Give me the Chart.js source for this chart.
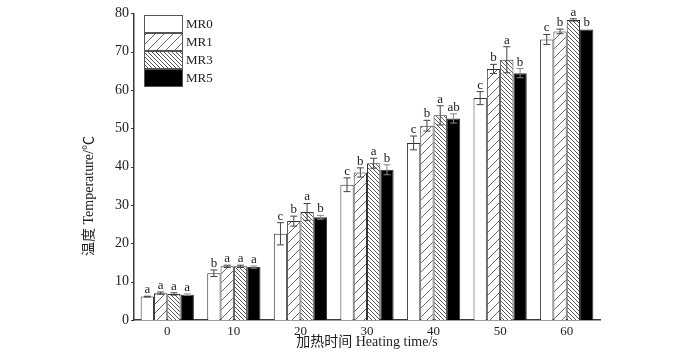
<!DOCTYPE html>
<html lang="zh">
<head>
  <meta charset="UTF-8" />
  <title>温度 Heating time</title>
  <style>
    html, body { margin: 0; padding: 0; background: #fff; }
    .chart-box { width: 700px; height: 354px; position: relative; }
  </style>
</head>
<body>
  <div class="chart-box">
    <canvas id="tempChart" width="700" height="354"></canvas>
  </div>

  <script src="https://cdn.jsdelivr.net/npm/chart.js"></script>
  <script>
    // --- data ---
    const categories = ['0', '10', '20', '30', '40', '50', '60'];
    const seriesNames = ['MR0', 'MR1', 'MR3', 'MR5'];

    const mr0 = [6.1, 12.2, 22.5, 35.3, 46.2, 57.9, 73.2];
    const mr1 = [7.0, 14.0, 25.8, 38.5, 50.7, 65.5, 75.3];
    const mr3 = [6.8, 14.0, 28.2, 40.9, 53.4, 67.9, 78.3];
    const mr5 = [6.6, 13.8, 26.8, 39.2, 52.6, 64.4, 75.8];

    // error bars (+/-)
    const err0 = [0.1, 0.85, 2.9, 1.8, 1.8, 1.7, 1.3];
    const err1 = [0.3, 0.3, 1.3, 1.2, 1.4, 1.2, 0.6];
    const err3 = [0.3, 0.3, 2.2, 1.3, 2.5, 3.4, 0.3];
    const err5 = [0.2, 0.3, 0.5, 1.3, 1.2, 1.2, 0.0];

    // significance letters
    const sig0 = ['a', 'b', 'c', 'c', 'c', 'c', 'c'];
    const sig1 = ['a', 'a', 'b', 'b', 'b', 'b', 'b'];
    const sig3 = ['a', 'a', 'a', 'a', 'a', 'a', 'a'];
    const sig5 = ['a', 'a', 'b', 'b', 'ab', 'b', 'b'];

    const yTicks = [0, 10, 20, 30, 40, 50, 60, 70, 80];
    const yTitle = '温度 Temperature/℃';
    const xTitle = '加热时间 Heating time/s';

    const serif = "'Liberation Serif', 'Noto Sans CJK SC', serif";
    const axisColor = '#3a3a3a';

    // --- hatch patterns ---
    function makeHatch(size, dir, color) {
      const c = document.createElement('canvas');
      c.width = size; c.height = size;
      const g = c.getContext('2d');
      g.fillStyle = '#fff';
      g.fillRect(0, 0, size, size);
      g.strokeStyle = color;
      g.lineWidth = 0.9;
      g.beginPath();
      if (dir === '/') {
        g.moveTo(0, size); g.lineTo(size, 0);
        g.moveTo(-1, 1); g.lineTo(1, -1);
        g.moveTo(size - 1, size + 1); g.lineTo(size + 1, size - 1);
      } else {
        g.moveTo(0, 0); g.lineTo(size, size);
        g.moveTo(size - 1, -1); g.lineTo(size + 1, 1);
        g.moveTo(-1, size - 1); g.lineTo(1, size + 1);
      }
      g.stroke();
      return document.createElement('canvas').getContext('2d').createPattern(c, 'repeat');
    }

    const fills = [
      '#ffffff',
      makeHatch(9, '/', '#555'),
      makeHatch(4, '\\', '#444'),
      '#000000'
    ];

    const values = [mr0, mr1, mr3, mr5];
    const errors = [err0, err1, err3, err5];
    const letters = [sig0, sig1, sig3, sig5];

    // --- error bars + letters ---
    const errorBarPlugin = {
      id: 'errorBars',
      afterDatasetsDraw(chart) {
        const ctx = chart.ctx;
        const y = chart.scales.y;
        ctx.save();
        chart.data.datasets.forEach((ds, di) => {
          const meta = chart.getDatasetMeta(di);
          meta.data.forEach((bar, i) => {
            const v = values[di][i];
            const e = errors[di][i];
            const yTop = y.getPixelForValue(v + e);
            const yBot = y.getPixelForValue(v - e);
            const x = bar.x;
            if (e > 0) {
              ctx.strokeStyle = di === 3 ? '#888' : '#444';
              ctx.lineWidth = 1;
              ctx.beginPath();
              ctx.moveTo(x, yTop); ctx.lineTo(x, yBot);
              ctx.moveTo(x - 3.5, yTop); ctx.lineTo(x + 3.5, yTop);
              ctx.moveTo(x - 3.5, yBot); ctx.lineTo(x + 3.5, yBot);
              ctx.stroke();
            }
            ctx.fillStyle = '#222';
            ctx.font = '13px ' + serif;
            ctx.textAlign = 'center';
            ctx.textBaseline = 'alphabetic';
            ctx.fillText(letters[di][i], x, Math.min(yTop, bar.y) - 3);
          });
        });
        ctx.restore();
      }
    };

    // --- y ticks drawn outward, y title, legend box ---
    const decorPlugin = {
      id: 'decor',
      afterDraw(chart) {
        const ctx = chart.ctx;
        const y = chart.scales.y;
        const left = chart.chartArea.left;
        ctx.save();
        ctx.strokeStyle = axisColor;
        ctx.lineWidth = 1;
        ctx.beginPath();
        yTicks.forEach(t => {
          const py = Math.round(y.getPixelForValue(t)) + 0.5;
          ctx.moveTo(left - 3, py); ctx.lineTo(left, py);
        });
        ctx.stroke();

        // y title (sits a bit below the plot centre in the original)
        ctx.save();
        ctx.translate(89, 196);
        ctx.rotate(-Math.PI / 2);
        ctx.fillStyle = '#222';
        ctx.font = '14px ' + serif;
        ctx.textAlign = 'center';
        ctx.textBaseline = 'middle';
        ctx.fillText(yTitle, 0, 0);
        ctx.restore();

        // legend
        const lx = 144, ly = 15, bw = 38, bh = 17, step = 18;
        seriesNames.forEach((name, i) => {
          const top = ly + i * step;
          ctx.fillStyle = fills[i];
          ctx.fillRect(lx, top, bw, bh);
          ctx.strokeStyle = '#555';
          ctx.lineWidth = 1;
          ctx.strokeRect(lx + 0.5, top + 0.5, bw, bh);
          ctx.fillStyle = '#222';
          ctx.font = '13px ' + serif;
          ctx.textAlign = 'left';
          ctx.textBaseline = 'middle';
          ctx.fillText(name, lx + bw + 4, top + bh / 2 + 1);
        });
        ctx.restore();
      }
    };

    new Chart(document.getElementById('tempChart'), {
      type: 'bar',
      data: {
        labels: categories,
        datasets: seriesNames.map((name, i) => ({
          label: name,
          data: values[i],
          backgroundColor: fills[i],
          borderColor: '#333',
          borderWidth: 1,
          categoryPercentage: 0.8,
          barPercentage: 1.0
        }))
      },
      options: {
        responsive: false,
        animation: false,
        devicePixelRatio: 1,
        layout: { padding: { left: 0, right: 100, top: 8, bottom: 0 } },
        plugins: {
          legend: { display: false },
          tooltip: { enabled: false }
        },
        scales: {
          x: {
            grid: { display: false, drawTicks: false },
            border: { display: true, color: axisColor, width: 1.5 },
            ticks: { color: '#222', font: { family: serif, size: 13 }, padding: 4 },
            title: {
              display: true,
              text: xTitle,
              color: '#222',
              font: { family: serif, size: 14 },
              padding: { top: 0, bottom: 3 }
            },
            afterFit(scale) { scale.height = 34; }
          },
          y: {
            min: 0,
            max: 80,
            afterBuildTicks(scale) { scale.ticks = yTicks.map(v => ({ value: v })); },
            grid: { display: false, drawTicks: false },
            border: { display: true, color: axisColor, width: 1.5 },
            ticks: { color: '#222', font: { family: serif, size: 14 }, padding: 5 },
            afterFit(scale) { scale.width = 134; }
          }
        }
      },
      plugins: [errorBarPlugin, decorPlugin]
    });
  </script>
</body>
</html>
